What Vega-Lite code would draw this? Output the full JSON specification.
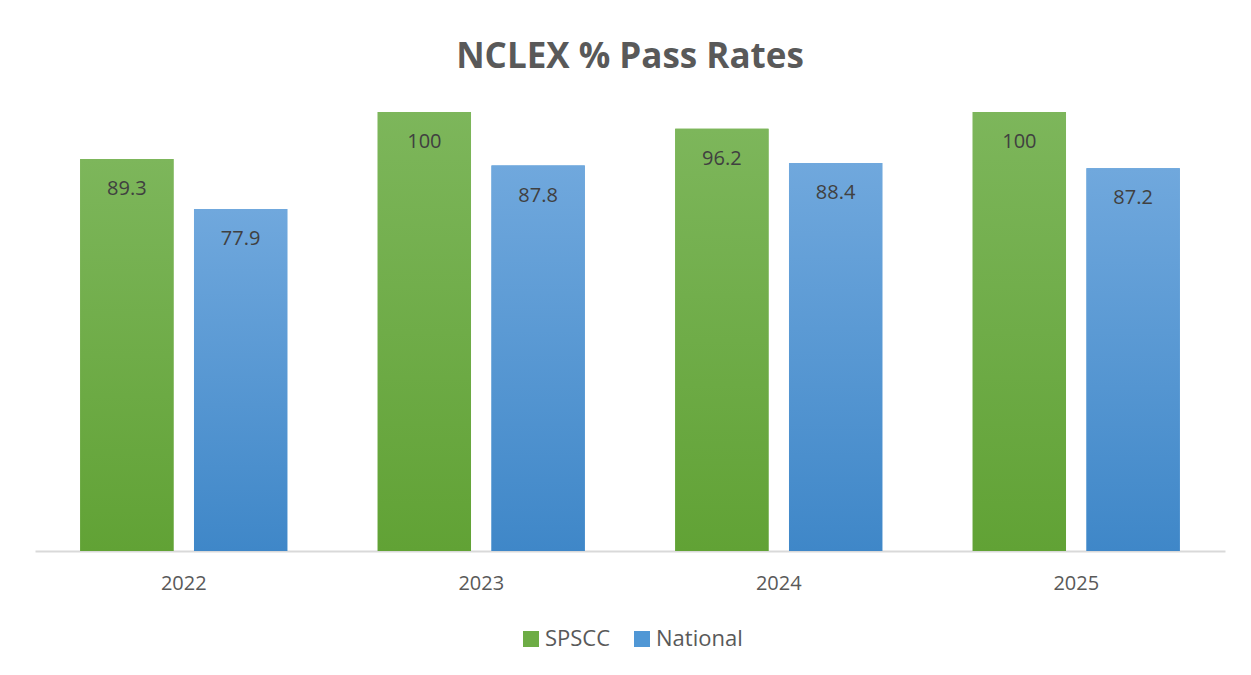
{
  "$schema": "https://vega.github.io/schema/vega-lite/v6.json",
  "autosize": "none",
  "width": 1190,
  "height": 439,
  "padding": {"left": 35, "top": 112, "right": 26, "bottom": 124},
  "background": "white",
  "title": {
    "text": "NCLEX % Pass Rates",
    "font": "Open Sans",
    "fontSize": 35,
    "fontWeight": "bold",
    "color": "#595959",
    "anchor": "middle",
    "offset": 37
  },
  "data": {
    "values": [
      {"year": "2022", "series": "SPSCC", "rate": 89.3},
      {"year": "2022", "series": "National", "rate": 77.9},
      {"year": "2023", "series": "SPSCC", "rate": 100},
      {"year": "2023", "series": "National", "rate": 87.8},
      {"year": "2024", "series": "SPSCC", "rate": 96.2},
      {"year": "2024", "series": "National", "rate": 88.4},
      {"year": "2025", "series": "SPSCC", "rate": 100},
      {"year": "2025", "series": "National", "rate": 87.2}
    ]
  },
  "encoding": {
    "x": {
      "field": "year",
      "type": "nominal",
      "scale": {"paddingInner": 0.304, "paddingOuter": 0.152},
      "axis": {
        "title": null,
        "labelAngle": 0,
        "ticks": false,
        "domainColor": "#d9d9d9",
        "domainWidth": 2,
        "labelFont": "Open Sans",
        "labelFontSize": 20,
        "labelColor": "#595959",
        "labelPadding": 22
      }
    },
    "xOffset": {
      "field": "series",
      "type": "nominal",
      "sort": ["SPSCC", "National"],
      "scale": {"paddingInner": 0.18, "paddingOuter": 0}
    },
    "y": {
      "field": "rate",
      "type": "quantitative",
      "scale": {"domain": [0, 100]},
      "axis": null
    }
  },
  "layer": [
    {
      "mark": {"type": "bar"},
      "encoding": {
        "color": {
          "field": "series",
          "type": "nominal",
          "sort": ["SPSCC", "National"],
          "scale": {"domain": ["SPSCC", "National"], "range": ["#6dac45", "#5097d5"]},
          "legend": {
            "title": null,
            "orient": "none",
            "legendX": 485,
            "legendY": 516,
            "direction": "horizontal",
            "symbolType": "square",
            "symbolSize": 256,
            "symbolStrokeWidth": 0,
            "labelFont": "Open Sans",
            "labelFontSize": 22,
            "labelColor": "#595959",
            "labelOffset": 3,
            "columnPadding": 20
          }
        }
      }
    },
    {
      "mark": {"type": "bar"},
      "encoding": {
        "color": {
          "condition": {
            "test": "datum.series === 'SPSCC'",
            "value": {"gradient": "linear", "x1": 0, "y1": 0, "x2": 0, "y2": 1, "stops": [{"offset": 0, "color": "#7db65b"}, {"offset": 1, "color": "#61a235"}]}
          },
          "value": {"gradient": "linear", "x1": 0, "y1": 0, "x2": 0, "y2": 1, "stops": [{"offset": 0, "color": "#70a8dd"}, {"offset": 1, "color": "#3f87c8"}]}
        }
      }
    },
    {
      "mark": {"type": "text", "baseline": "middle", "dy": 30, "font": "Open Sans", "fontSize": 20, "color": "#404040"},
      "encoding": {
        "text": {"field": "rate", "type": "quantitative"}
      }
    }
  ],
  "config": {
    "view": {"stroke": null}
  }
}
